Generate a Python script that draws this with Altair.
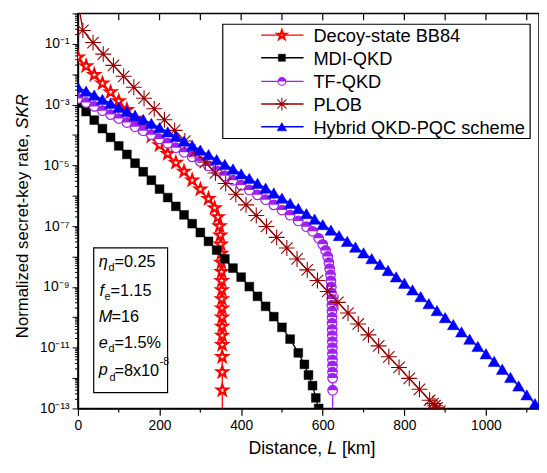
import altair as alt
import pandas as pd

FONT = "Liberation Sans"

# ---------------- data: distance L [km] and log10(normalized SKR)
BB84_L = [0, 20, 40, 60, 80, 100, 120, 140, 160, 180, 200, 220, 240, 260, 280, 300, 320,
          335, 343, 347, 349, 350, 351, 351.5, 352, 352.3, 352.6, 352.8, 353, 353.2, 353.3,
          353.4, 353.5, 353.6, 353.7, 353.8]
BB84_LOG = [-1.44, -1.73, -2.02, -2.30, -2.59, -2.88, -3.17, -3.46, -3.75, -4.04, -4.33, -4.62,
            -4.91, -5.20, -5.49, -5.79, -6.10,
            -6.40, -6.70, -7.00, -7.30, -7.60, -7.9, -8.2, -8.5, -8.8, -9.1, -9.4, -9.7, -10.0,
            -10.3, -10.6, -10.9, -11.3, -11.8, -12.4]
BB84_TAIL = ([353.9], [-13.5])

MDI_L = [0, 20, 40, 60, 80, 100, 120, 140, 160, 180, 200, 220, 240, 260, 280, 300, 320, 340,
         360, 380, 400, 420, 440, 460, 480, 500, 520, 540, 555, 565, 575, 583, 590]
MDI_LOG = [-2.95, -3.23, -3.51, -3.79, -4.08, -4.36, -4.64, -4.93, -5.21, -5.49, -5.78, -6.06,
           -6.35, -6.63, -6.92, -7.21, -7.50, -7.79, -8.08, -8.38, -8.68, -8.99, -9.31, -9.64,
           -9.98, -10.33, -10.72, -11.17, -11.55, -11.90, -12.25, -12.65, -13.0]

TF_L = [0, 20, 40, 60, 80, 100, 120, 140, 160, 180, 200, 220, 240, 260, 280, 300, 320, 340,
        360, 380, 400, 420, 440, 460, 480, 500, 520, 540, 560,
        575, 590, 600, 607, 612, 615, 617, 619, 620, 621, 621.5, 622, 622.3, 622.6, 622.8,
        623, 623.2, 623.4, 623.5, 623.6, 623.7, 623.8, 623.9, 624, 624.1, 624.2]
TF_LOG = [-2.80, -2.93, -3.06, -3.20, -3.33, -3.46, -3.59, -3.73, -3.86, -3.99, -4.13, -4.27,
          -4.42, -4.57, -4.72, -4.87, -5.02, -5.18, -5.34, -5.49, -5.65, -5.81, -5.97, -6.13,
          -6.30, -6.47, -6.64, -6.83, -7.02,
          -7.17, -7.40, -7.60, -7.80, -8.00, -8.20, -8.40, -8.60, -8.80, -9.00, -9.20, -9.40,
          -9.60, -9.80, -10.00, -10.20, -10.40, -10.60, -10.80, -11.00, -11.20, -11.40, -11.60,
          -11.80, -12.00, -12.40]
TF_TAIL = ([624.3], [-13.5])

PLOB_HEAD = ([0], [0.4])
PLOB_L = [12, 37, 62, 87, 112, 137, 162, 187, 212, 237, 262, 287, 312, 337, 362, 387, 412, 437,
          462, 487, 512, 537, 562, 587, 612, 637, 662, 687, 712, 737, 762, 787, 812, 837, 862,
          870, 875, 880, 887, 895, 905]
PLOB_LOG = [-0.56, -0.96, -1.34, -1.71, -2.07, -2.43, -2.79, -3.14, -3.50, -3.85, -4.20, -4.55,
            -4.90, -5.25, -5.60, -5.95, -6.30, -6.65, -7.01, -7.37, -7.72, -8.08, -8.44, -8.79,
            -9.15, -9.51, -9.86, -10.22, -10.58, -10.94, -11.30, -11.65, -12.01, -12.37, -12.73,
            -12.84, -12.91, -12.98, -13.09, -13.20, -13.34]

HYB_L = [0, 20, 40, 60, 80, 100, 120, 140, 160, 180, 200, 220, 240, 260, 280, 300, 320, 340,
         360, 380, 400, 420, 440, 460, 480, 500, 520, 540, 560, 580, 600, 620, 640, 660, 680,
         700, 720, 740, 760, 780, 800, 820, 840, 860, 880, 900, 920, 940, 960, 980, 1000, 1020,
         1040, 1060, 1080, 1100, 1120, 1130]
HYB_LOG = [-2.43, -2.56, -2.69, -2.83, -2.96, -3.09, -3.22, -3.36, -3.49, -3.62, -3.76, -3.90,
           -4.05, -4.20, -4.35, -4.50, -4.65, -4.81, -4.97, -5.12, -5.28, -5.43, -5.59, -5.75,
           -5.91, -6.08, -6.25, -6.42, -6.59, -6.77, -6.95, -7.13, -7.31, -7.50, -7.69, -7.88,
           -8.07, -8.26, -8.46, -8.67, -8.88, -9.10, -9.32, -9.55, -9.78, -10.01, -10.24,
           -10.48, -10.72, -10.96, -11.20, -11.45, -11.71, -11.98, -12.26, -12.55, -12.84, -12.99]

SERIES_NAMES = ["Decoy-state BB84", "MDI-QKD", "TF-QKD", "PLOB", "Hybrid QKD-PQC scheme"]

X_MAJOR = [0, 200, 400, 600, 800, 1000]
X_MINOR = [100, 300, 500, 700, 900, 1100]
X_TOP = [0, 100, 200, 300, 400, 500, 600, 700, 800, 900, 1000, 1100]
Y_DECADES = [1e-13, 1e-12, 1e-11, 1e-10, 1e-9, 1e-8, 1e-7, 1e-6, 1e-5, 1e-4, 1e-3, 1e-2, 1e-1, 1.0]
Y_LABEL_EXPS = [-1, -3, -5, -7, -9, -11, -13]
Y_MINOR_MULT = [2, 3, 4, 5, 6, 7, 8, 9]

# ---------------- styles
STAR = ("M0,-1L0.235,-0.324L0.951,-0.309L0.380,0.124L0.588,0.809L0,0.4L-0.588,0.809"
        "L-0.380,0.124L-0.951,-0.309L-0.235,-0.324Z")
HALF_TOP = "M-1,0A1,1,0,0,1,1,0Z"
ASTERISK = "M-1,0L1,0M0,-1L0,1M-0.72,-0.72L0.72,0.72M-0.72,0.72L0.72,-0.72"
STYLE = {
    "Decoy-state BB84": dict(color="#FF0000", shape=STAR, size=130, fill="#FFFFFF", filled=True, sw=2.2),
    "MDI-QKD": dict(color="#000000", shape="square", size=80, fill="#000000", filled=True, sw=0.5),
    "TF-QKD": dict(color="#A020F0", shape="circle", size=95, fill="#FFFFFF", filled=True, sw=1.2),
    "PLOB": dict(color="#990000", shape=ASTERISK, size=260, fill=None, filled=False, sw=1.1),
    "Hybrid QKD-PQC scheme": dict(color="#0000FF", shape="triangle-up", size=145, fill="#0000FF", filled=True, sw=0.5),
}


def frame(L, lg):
    return pd.DataFrame({"L": L, "skr": [10.0 ** v for v in lg]})


data_pts = {
    "Decoy-state BB84": frame(BB84_L, BB84_LOG),
    "MDI-QKD": frame(MDI_L, MDI_LOG),
    "TF-QKD": frame(TF_L, TF_LOG),
    "PLOB": frame(PLOB_L, PLOB_LOG),
    "Hybrid QKD-PQC scheme": frame(HYB_L, HYB_LOG),
}
data_line = {
    "Decoy-state BB84": frame(BB84_L + BB84_TAIL[0], BB84_LOG + BB84_TAIL[1]),
    "MDI-QKD": frame(MDI_L, MDI_LOG),
    "TF-QKD": frame(TF_L + TF_TAIL[0], TF_LOG + TF_TAIL[1]),
    "PLOB": frame(PLOB_HEAD[0] + PLOB_L, PLOB_HEAD[1] + PLOB_LOG),
    "Hybrid QKD-PQC scheme": frame(HYB_L, HYB_LOG),
}

# ---------------- scales / axes
W, H = 468, 401
SUP = str.maketrans("-0123456789", "⁻⁰¹²³⁴⁵⁶⁷⁸⁹")
LG = "(log(datum.value)/LN10)"
label_expr = ""
for e in Y_LABEL_EXPS:
    label_expr += f"abs({LG} - ({e})) < 0.01 ? '10{str(e).translate(SUP)}' : "
label_expr += "''"

x_axis = alt.Axis(values=X_MAJOR, format="d", title=None, grid=False, labelFont=FONT, labelFontSize=14,
                  labelColor="black", tickColor="black", domainColor="black", domainWidth=1.5,
                  tickWidth=1.2, tickSize=7, labelPadding=3, labelFlush=False, labelOverlap=False)
y_axis = alt.Axis(values=Y_DECADES, labelExpr=label_expr, title=None, grid=False, labelFont=FONT,
                  labelFontSize=14, labelColor="black", tickColor="black", domainColor="black",
                  domainWidth=1.5, tickWidth=1, tickSize=6, labelPadding=3, labelFlush=False,
                  labelOverlap=False)
XS = alt.Scale(domain=[0, 1130], nice=False, zero=False)
YS = alt.Scale(type="log", domain=[1e-13, 1], nice=False)


def enc(ch):
    return ch.encode(x=alt.X("L:Q", scale=XS, axis=x_axis), y=alt.Y("skr:Q", scale=YS, axis=y_axis))


layers = []
for name in SERIES_NAMES:
    st = STYLE[name]
    layers.append(enc(alt.Chart(data_line[name]).mark_line(color=st["color"], strokeWidth=1.3, clip=True)))
    kw = dict(shape=st["shape"], size=st["size"], opacity=1, stroke=st["color"], strokeWidth=st["sw"],
              filled=st["filled"], clip=True)
    if st["fill"]:
        kw["fill"] = st["fill"]
    layers.append(enc(alt.Chart(data_pts[name]).mark_point(**kw)))
    if name == "TF-QKD":
        layers.append(enc(alt.Chart(data_pts[name]).mark_point(
            shape=HALF_TOP, size=st["size"], opacity=1, fill=st["color"], filled=True,
            strokeWidth=0, clip=True)))

# minor ticks (x bottom, x top inward, y left)
layers.append(alt.Chart(pd.DataFrame({"L": X_MINOR})).mark_rule(color="black", strokeWidth=1.2).encode(
    x=alt.X("L:Q", scale=XS, axis=x_axis), y=alt.value(H), y2=alt.value(H + 4)))
layers.append(alt.Chart(pd.DataFrame({"L": X_TOP})).mark_rule(color="black", strokeWidth=1.2).encode(
    x=alt.X("L:Q", scale=XS, axis=x_axis), y=alt.value(0), y2=alt.value(7)))
y_minor = [m * d for d in Y_DECADES[:-1] for m in Y_MINOR_MULT]
layers.append(alt.Chart(pd.DataFrame({"skr": y_minor})).mark_rule(color="black", strokeWidth=1).encode(
    y=alt.Y("skr:Q", scale=YS, axis=y_axis), x=alt.value(-3), x2=alt.value(0)))

one = pd.DataFrame({"a": [0]})


def txt(s, x, y, size=17, italic=False, align="left", baseline="middle", angle=0):
    return alt.Chart(one).mark_text(text=s, align=align, baseline=baseline, fontSize=size,
                                    fontStyle="italic" if italic else "normal", font=FONT,
                                    angle=angle, color="black").encode(x=alt.value(x), y=alt.value(y))


# legend
LEG_Y = [22, 45, 69, 92, 115]
layers.append(alt.Chart(one).mark_rect(fill="white", stroke="black", strokeWidth=1.2).encode(
    x=alt.value(147), x2=alt.value(459), y=alt.value(11), y2=alt.value(127)))
for name, yy in zip(SERIES_NAMES, LEG_Y):
    st = STYLE[name]
    layers.append(alt.Chart(one).mark_rule(color=st["color"], strokeWidth=1.4).encode(
        x=alt.value(186), x2=alt.value(229), y=alt.value(yy)))
    kw = dict(shape=st["shape"], size=st["size"] * 0.65, opacity=1, stroke=st["color"],
              strokeWidth=st["sw"], filled=st["filled"])
    if st["fill"]:
        kw["fill"] = st["fill"]
    layers.append(alt.Chart(one).mark_point(**kw).encode(x=alt.value(207), y=alt.value(yy)))
    if name == "TF-QKD":
        layers.append(alt.Chart(one).mark_point(shape=HALF_TOP, size=st["size"] * 0.65, opacity=1,
                                                fill=st["color"], filled=True, strokeWidth=0).encode(
            x=alt.value(207), y=alt.value(yy)))
    layers.append(txt(name, 239, yy + 1, size=18.5))

# parameter box
layers.append(alt.Chart(one).mark_rect(fill="white", stroke="black", strokeWidth=1.2).encode(
    x=alt.value(16), x2=alt.value(91), y=alt.value(238), y2=alt.value(385)))
ly = [252, 282, 308, 335, 363]
AS = 16.5
layers.append(txt("η", 21, ly[0], size=AS, italic=True))
layers.append(txt("d", 31, ly[0] + 6, size=11))
layers.append(txt("=0.25", 37, ly[0], size=AS))
layers.append(txt("f", 22, ly[1], size=AS, italic=True))
layers.append(txt("e", 27, ly[1] + 6, size=11))
layers.append(txt("=1.15", 33, ly[1], size=AS))
layers.append(txt("M", 21, ly[2], size=AS, italic=True))
layers.append(txt("=16", 34, ly[2], size=AS))
layers.append(txt("e", 21, ly[3], size=AS, italic=True))
layers.append(txt("d", 31, ly[3] + 6, size=11))
layers.append(txt("=1.5%", 37, ly[3], size=AS))
layers.append(txt("p", 21, ly[4] - 1, size=AS, italic=True))
layers.append(txt("d", 32, ly[4] + 7, size=11))
layers.append(txt("=8x10", 37, ly[4], size=AS))
layers.append(txt("-8", 83, ly[4] - 9, size=10.5))

# axis titles with italic parts
layers.append(txt("Distance,", 173, 442, size=18))
layers.append(txt("L", 253, 442, size=18, italic=True))
layers.append(txt("[km]", 268, 442, size=18))
layers.append(txt("Normalized secret-key rate,", -56, 122, align="right", angle=270))
layers.append(txt("SKR", -56, 117, italic=True, align="left", angle=270))

chart = alt.layer(*layers).properties(
    width=W, height=H,
    autosize=alt.AutoSizeParams(type="none"),
    padding={"left": 71, "top": 2, "right": 0, "bottom": 60},
).configure(font=FONT).configure_view(stroke="black", strokeWidth=1.5)

chart.save("out.html", embed_options={"renderer": "svg", "actions": False})
